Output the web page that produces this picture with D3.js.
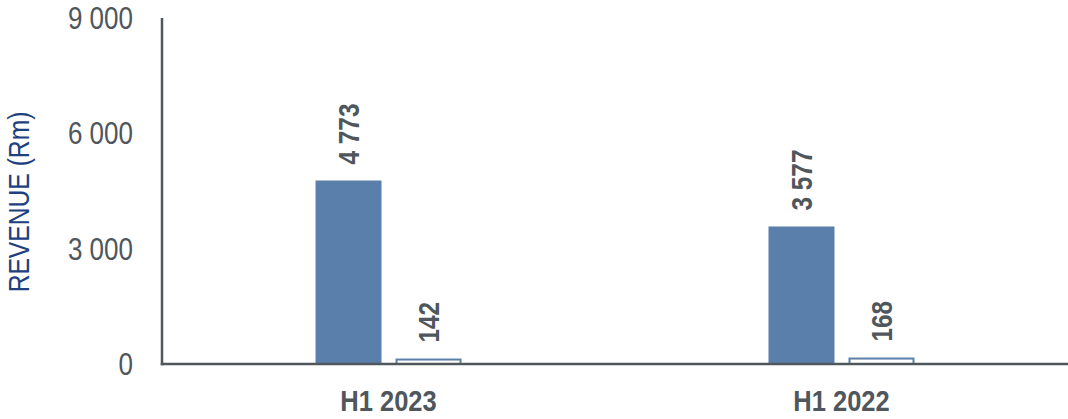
<!DOCTYPE html>
<html>
<head>
<meta charset="utf-8">
<script src="https://cdn.jsdelivr.net/npm/d3@7"></script>
<style>
  html, body { margin: 0; padding: 0; background: #ffffff; }
  svg { display: block; }
  text { font-family: "Liberation Sans Narrow", "Arial Narrow", "Liberation Sans", Arial, sans-serif; }
</style>
</head>
<body>
<svg id="chart" width="1068" height="419"></svg>
<script>
const categories = ["H1 2023", "H1 2022"];
const seriesNames = ["Revenue A", "Revenue B"];
const seriesA = [4773, 3577];
const seriesB = [142, 168];
const yTicks = [0, 3000, 6000, 9000];
const yLabel = "REVENUE (Rm)";

const W = 1068, H = 419;
const margin = { left: 162, right: 0, top: 18, bottom: 55 };
const base = H - margin.bottom; // baseline
const SX = 0.84; // horizontal condensing to imitate a narrow face

const locale = d3.formatLocale({ decimal: ".", thousands: " ", grouping: [3], currency: ["", ""] });
const fmt = locale.format(",d");

const svg = d3.select("#chart");

const y = d3.scaleLinear().domain([0, 9000]).range([base, margin.top]);
const x0 = d3.scaleBand().domain(categories).range([margin.left, W - margin.right])
  .paddingInner(0.6777).paddingOuter(0.3389);
const x1 = d3.scaleBand().domain(seriesNames).range([0, x0.bandwidth()]).paddingInner(0.175);

const axisColor = "#4f565c";
const textColor = "#4f565c";
const barColor = "#5b7fab";

// Y tick labels
svg.append("g").selectAll("text").data(yTicks).join("text")
  .attr("transform", d => `translate(133,${y(d)}) scale(${SX},1)`)
  .attr("dy", "0.35em")
  .attr("text-anchor", "end")
  .attr("font-size", 31)
  .attr("fill", textColor)
  .text(d => fmt(d));

// Y axis title
svg.append("text")
  .attr("transform", `translate(19,202) rotate(-90) scale(0.85,1)`)
  .attr("dy", "0.35em")
  .attr("text-anchor", "middle")
  .attr("font-size", 29)
  .attr("fill", "#203f7e")
  .text(yLabel);

const rows = categories.map((c, i) => ({ cat: c, vals: [seriesA[i], seriesB[i]] }));

const groups = svg.append("g").selectAll("g").data(rows).join("g")
  .attr("transform", d => `translate(${x0(d.cat)},0)`);

groups.each(function(d) {
  const g = d3.select(this);
  d.vals.forEach((v, j) => {
    const name = seriesNames[j];
    const bx = x1(name), bw = x1.bandwidth();
    if (j === 0) {
      g.append("rect")
        .attr("x", bx).attr("y", y(v))
        .attr("width", bw).attr("height", y(0) - y(v))
        .attr("fill", barColor);
    } else {
      g.append("rect")
        .attr("x", bx + 1).attr("y", y(v) + 1)
        .attr("width", bw - 2).attr("height", Math.max(0, y(0) - y(v) - 1))
        .attr("fill", "#ffffff")
        .attr("stroke", barColor)
        .attr("stroke-width", 2);
    }
    g.append("text")
      .attr("transform", `translate(${bx + bw / 2},${y(v) - 16}) rotate(-90) scale(${SX},1)`)
      .attr("dy", "0.35em")
      .attr("text-anchor", "start")
      .attr("font-size", 29)
      .attr("font-weight", "bold")
      .attr("fill", textColor)
      .text(fmt(v));
  });
});

// Axes lines
svg.append("line")
  .attr("x1", margin.left).attr("x2", margin.left)
  .attr("y1", y(9000)).attr("y2", base + 1.25)
  .attr("stroke", axisColor).attr("stroke-width", 2.5);
svg.append("line")
  .attr("x1", margin.left - 1.25).attr("x2", W)
  .attr("y1", base).attr("y2", base)
  .attr("stroke", axisColor).attr("stroke-width", 2.5);

// Category labels
svg.append("g").selectAll("text").data(categories).join("text")
  .attr("transform", d => `translate(${x0(d) + x0.bandwidth() / 2},411) scale(0.85,1)`)
  .attr("text-anchor", "middle")
  .attr("font-size", 30)
  .attr("font-weight", "bold")
  .attr("fill", textColor)
  .text(d => d);
</script>
</body>
</html>
